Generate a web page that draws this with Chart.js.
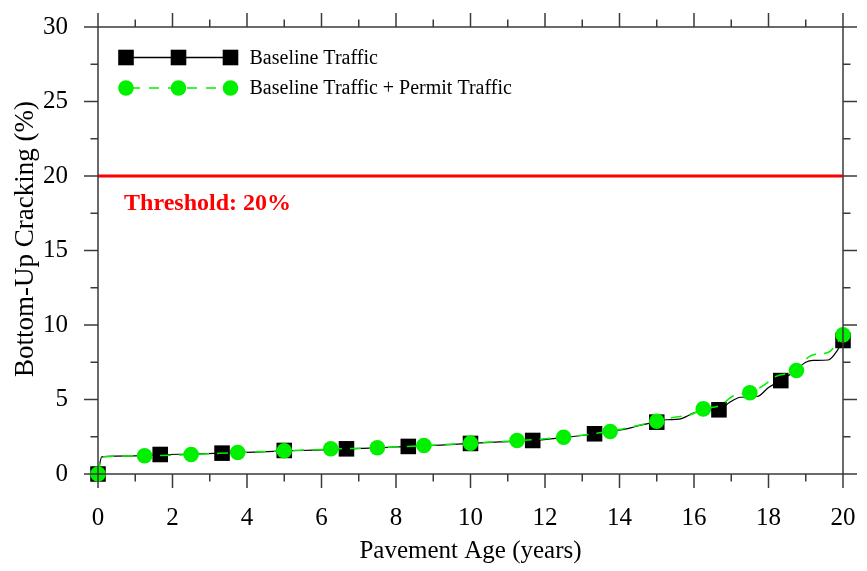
<!DOCTYPE html>
<html>
<head>
<meta charset="utf-8">
<script src="https://cdn.jsdelivr.net/npm/chart.js@4.4.1/dist/chart.umd.min.js"></script>
<style>
  html, body { margin: 0; padding: 0; background: #fff; }
  #chart { display: block; }
</style>
</head>
<body>
<canvas id="chart" width="867" height="571"></canvas>
<script>
// -----------------------------
// Data
// -----------------------------
const xTicks = [0, 2, 4, 6, 8, 10, 12, 14, 16, 18, 20];
const yTicks = [0, 5, 10, 15, 20, 25, 30];

// continuous curves
const baseYears = [0, 0.1, 1.0, 1.7, 2.5, 3.35, 4.2, 5.0, 5.8, 6.7, 7.5, 8.35, 9.2, 10.0, 10.8, 11.7,
  12.5, 13.35, 13.8, 14.3, 14.6, 15.0, 15.25, 15.6, 16.0, 16.3, 16.7, 16.95, 17.25, 17.7, 18.0,
  18.35, 18.7, 19.0, 19.2, 19.6, 19.85, 20.0];
const baseCrack = [0, 1.15, 1.22, 1.3, 1.34, 1.4, 1.47, 1.55, 1.6, 1.68, 1.76, 1.85, 1.94, 2.05, 2.15, 2.25,
  2.45, 2.7, 2.87, 3.1, 3.3, 3.5, 3.64, 3.68, 4.1, 4.28, 4.33, 4.8, 5.15, 5.2, 5.8,
  6.3, 6.9, 7.5, 7.62, 7.65, 8.3, 9.0];

const permitYears = [0, 0.1, 1.25, 2.5, 3.75, 5.0, 6.25, 7.5, 8.75, 10.0, 11.25, 12.5, 13.75, 14.4,
  15.0, 15.45, 15.9, 16.26, 16.7, 17.06, 17.5, 17.9, 18.2, 18.77, 19.05, 19.25, 19.6, 20.0];
const permitCrack = [0, 1.15, 1.22, 1.31, 1.44, 1.56, 1.67, 1.76, 1.9, 2.07, 2.24, 2.47, 2.87, 3.2,
  3.54, 3.8, 3.98, 4.37, 4.6, 5.25, 5.46, 6.0, 6.55, 6.98, 7.8, 8.03, 8.15, 9.34];

// markers
const baseMarkYears = [0, 1.67, 3.33, 5, 6.67, 8.33, 10, 11.67, 13.33, 15, 16.67, 18.33, 20];
const baseMarkCrack = [0, 1.31, 1.40, 1.58, 1.69, 1.85, 2.05, 2.25, 2.7, 3.48, 4.31, 6.27, 8.96];

const permitMarkYears = [0, 1.25, 2.5, 3.75, 5, 6.25, 7.5, 8.75, 10, 11.25, 12.5, 13.75, 15, 16.25, 17.5, 18.75, 20];
const permitMarkCrack = [0, 1.22, 1.31, 1.44, 1.56, 1.69, 1.76, 1.91, 2.07, 2.25, 2.47, 2.85, 3.54, 4.37, 5.45, 6.95, 9.34];

const threshold = 20;

const seriesNames = ['Baseline Traffic', 'Baseline Traffic + Permit Traffic'];
const yTitle = 'Bottom-Up Cracking (%)';
const GREEN = '#00f000';
const AXIS = '#3a3a3a';

const pts = (xs, ys) => xs.map((x, i) => ({ x: x, y: ys[i] }));

Chart.defaults.font.family = '"Liberation Serif", "Times New Roman", serif';
Chart.defaults.color = '#000';

// -----------------------------
// Frame, ticks, legend, labels
// -----------------------------
const decorations = {
  id: 'decorations',
  afterDatasetsDraw(chart) {
    const { ctx, chartArea: a, scales: { x, y } } = chart;
    ctx.save();

    // frame
    ctx.strokeStyle = AXIS;
    ctx.lineWidth = 1.5;
    ctx.strokeRect(a.left, a.top, a.right - a.left, a.bottom - a.top);

    // ticks on all four sides, pointing out
    const tick = (x1, y1, x2, y2) => {
      ctx.beginPath(); ctx.moveTo(x1, y1); ctx.lineTo(x2, y2); ctx.stroke();
    };
    for (let v = 0; v <= 20; v += 1) {
      const px = x.getPixelForValue(v);
      const len = v % 2 === 0 ? 14 : 7.5;
      tick(px, a.bottom, px, a.bottom + len);
      tick(px, a.top, px, a.top - len);
    }
    for (let v = 0; v <= 30; v += 2.5) {
      const py = y.getPixelForValue(v);
      const len = v % 5 === 0 ? 14 : 7.5;
      tick(a.left, py, a.left - len, py);
      tick(a.right, py, a.right + len, py);
    }

    // legend
    const lx = [a.left + 28, a.left + 80.5, a.left + 132.5];
    const ly = [a.top + 30.5, a.top + 61];
    ctx.font = '20px "Liberation Serif"';
    ctx.textBaseline = 'middle';
    ctx.fillStyle = '#000';

    ctx.strokeStyle = '#000';
    ctx.lineWidth = 1.3;
    tick(lx[0], ly[0], lx[2], ly[0]);
    lx.forEach(cx => ctx.fillRect(cx - 7.8, ly[0] - 7.8, 15.6, 15.6));
    ctx.fillText(seriesNames[0], a.left + 151.5, ly[0] + 1);

    ctx.strokeStyle = GREEN;
    ctx.lineWidth = 1.5;
    ctx.setLineDash([10, 9]);
    ctx.lineDashOffset = -4;
    tick(lx[0], ly[1], lx[2], ly[1]);
    ctx.setLineDash([]);
    ctx.fillStyle = GREEN;
    lx.forEach(cx => { ctx.beginPath(); ctx.arc(cx, ly[1], 7.8, 0, Math.PI * 2); ctx.fill(); });
    ctx.fillStyle = '#000';
    ctx.fillText(seriesNames[1], a.left + 151.5, ly[1] + 1);

    // threshold label
    ctx.fillStyle = '#ff0000';
    ctx.font = 'bold 24px "Liberation Serif"';
    ctx.textBaseline = 'alphabetic';
    ctx.fillText('Threshold: ' + threshold + '%', x.getPixelForValue(0.7), y.getPixelForValue(17.75));

    // y axis title
    ctx.fillStyle = '#000';
    ctx.font = '27px "Liberation Serif"';
    ctx.textAlign = 'center';
    ctx.textBaseline = 'middle';
    ctx.translate(26, 239);
    ctx.rotate(-Math.PI / 2);
    ctx.fillText(yTitle, 0, 0);

    ctx.restore();
  }
};

// -----------------------------
// Chart
// -----------------------------
new Chart(document.getElementById('chart'), {
  type: 'scatter',
  data: {
    datasets: [
      {
        label: seriesNames[1] + ' markers',
        data: pts(permitMarkYears, permitMarkCrack),
        showLine: false,
        pointStyle: 'circle',
        pointRadius: 7.8,
        pointBackgroundColor: GREEN,
        pointBorderWidth: 0,
        clip: false,
        order: 0
      },
      {
        label: seriesNames[1],
        data: pts(permitYears, permitCrack),
        showLine: true,
        borderColor: GREEN,
        borderWidth: 1.5,
        borderDash: [11, 8],
        cubicInterpolationMode: 'monotone',
        pointRadius: 0,
        order: 1
      },
      {
        label: seriesNames[0] + ' markers',
        data: pts(baseMarkYears, baseMarkCrack),
        showLine: false,
        pointStyle: 'rect',
        pointRadius: 11,
        pointBackgroundColor: '#000',
        pointBorderWidth: 0,
        clip: false,
        order: 2
      },
      {
        label: seriesNames[0],
        data: pts(baseYears, baseCrack),
        showLine: true,
        borderColor: '#000',
        borderWidth: 1.2,
        cubicInterpolationMode: 'monotone',
        pointRadius: 0,
        order: 3
      },
      {
        label: 'Threshold',
        data: [{ x: 0, y: threshold }, { x: 20, y: threshold }],
        showLine: true,
        borderColor: '#ff0000',
        borderWidth: 3,
        pointRadius: 0,
        order: 4
      }
    ]
  },
  options: {
    responsive: false,
    animation: false,
    devicePixelRatio: 1,
    layout: { padding: { left: 0, right: 24, top: 27, bottom: 0 } },
    plugins: { legend: { display: false }, tooltip: { enabled: false } },
    scales: {
      x: {
        type: 'linear',
        min: 0, max: 20,
        afterFit: s => { s.height = 97; s.paddingLeft = 0; s.paddingRight = 0; },
        afterBuildTicks: s => { s.ticks = xTicks.map(v => ({ value: v })); },
        grid: { display: false, drawTicks: false },
        border: { display: false },
        ticks: { padding: 29, font: { size: 25 }, color: '#000' },
        title: { display: true, text: 'Pavement Age (years)', font: { size: 25 }, color: '#000', padding: { bottom: 4.5 } }
      },
      y: {
        type: 'linear',
        min: 0, max: 30,
        afterFit: s => { s.width = 98; s.paddingTop = 0; s.paddingBottom = 0; },
        afterBuildTicks: s => { s.ticks = yTicks.map(v => ({ value: v })); },
        grid: { display: false, drawTicks: false },
        border: { display: false },
        ticks: { padding: 30, font: { size: 25 }, color: '#000' },
        title: { display: false }
      }
    }
  },
  plugins: [decorations]
});
</script>
</body>
</html>
